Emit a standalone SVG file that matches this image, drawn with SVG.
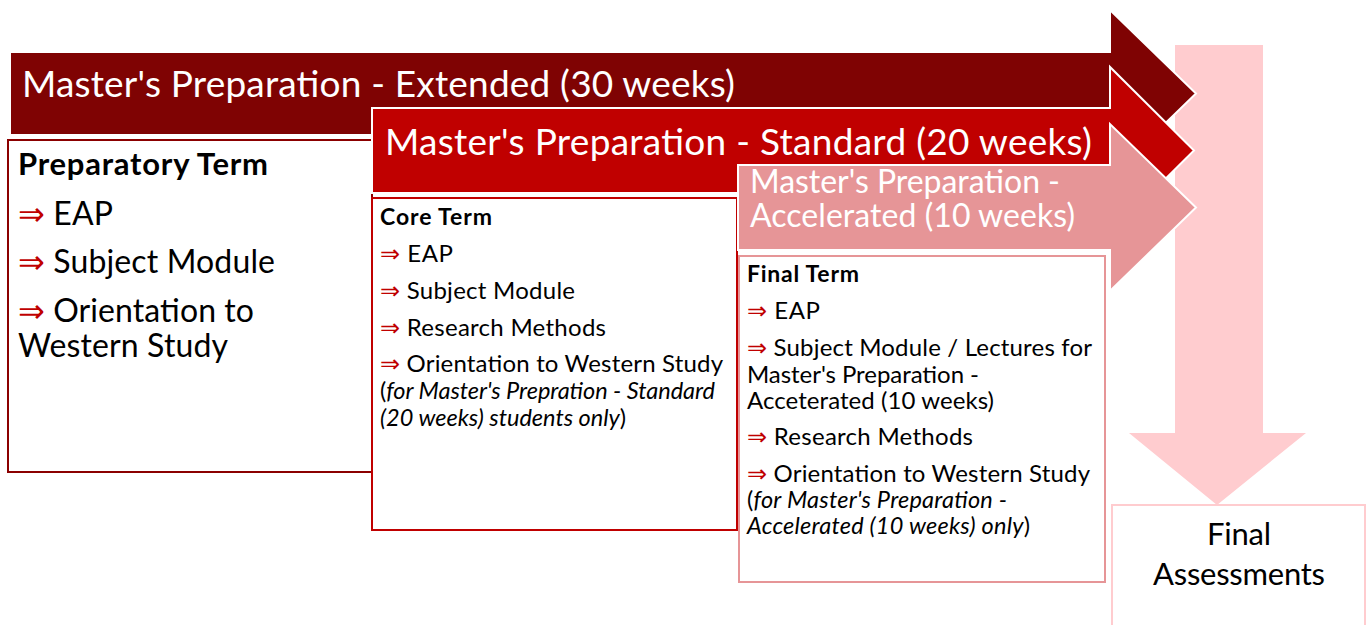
<svg xmlns="http://www.w3.org/2000/svg" width="1366" height="625" viewBox="0 0 1366 625">
<style>
text{font-family:Lato,"Liberation Sans",sans-serif;fill:#000}
.band{fill:#fff;font-size:37px}
.b{font-weight:bold}
.ar{fill:#C00000;font-family:"DejaVu Sans",sans-serif}
.i{font-style:italic}
.box{fill:#fff;stroke-width:2}
</style>
<rect width="1366" height="625" fill="#fff"/>
<g id="final-arrow">
<polygon points="1175,45 1263,45 1263,433 1306,433 1217,505 1129,433 1175,433" fill="#FFCCCF"/>
</g>
<g id="extended">
<polygon points="10,52 1110,52 1110,10 1196,93.5 1110,177 1110,135 10,135" fill="#7F0303" stroke="#fff" stroke-width="2"/>
<text class="band" x="22" y="97" textLength="713" lengthAdjust="spacing">Master's Preparation - Extended (30 weeks)</text>
</g>
<g id="preparatory">
<rect class="box" x="8" y="140" width="364" height="332" stroke="#8B0000"/>
<g font-size="32">
<text class="b" x="18" y="175" font-size="31" textLength="250" lengthAdjust="spacing">Preparatory Term</text>
<text x="18" y="225" textLength="95" lengthAdjust="spacing"><tspan class="ar">⇒</tspan> EAP</text>
<text x="18" y="273" textLength="257" lengthAdjust="spacing"><tspan class="ar">⇒</tspan> Subject Module</text>
<text x="18" y="322" textLength="236" lengthAdjust="spacing"><tspan class="ar">⇒</tspan> Orientation to</text>
<text x="18" y="357" textLength="210" lengthAdjust="spacing">Western Study</text>
</g>
</g>
<g id="standard">
<polygon points="372,108 1110,108 1110,67 1194,150.5 1110,234 1110,193 372,193" fill="#C00000" stroke="#fff" stroke-width="2"/>
<text class="band" x="385" y="155" textLength="707" lengthAdjust="spacing">Master's Preparation - Standard (20 weeks)</text>
</g>
<g id="core">
<rect class="box" x="372" y="198" width="365" height="332" stroke="#C00000"/>
<g font-size="24">
<text class="b" x="380" y="225" font-size="23" textLength="112" lengthAdjust="spacing">Core Term</text>
<text x="380" y="262" textLength="73" lengthAdjust="spacing"><tspan class="ar">⇒</tspan> EAP</text>
<text x="380" y="299" textLength="195" lengthAdjust="spacing"><tspan class="ar">⇒</tspan> Subject Module</text>
<text x="380" y="336" textLength="226" lengthAdjust="spacing"><tspan class="ar">⇒</tspan> Research Methods</text>
<text x="380" y="372" textLength="343" lengthAdjust="spacing"><tspan class="ar">⇒</tspan> Orientation to Western Study</text>
<text x="380" y="399" font-size="23.5" textLength="335" lengthAdjust="spacing">(<tspan class="i">for Master's Prepration - Standard</tspan></text>
<text x="380" y="426" font-size="23.5" textLength="246" lengthAdjust="spacing"><tspan class="i">(20 weeks) students only</tspan>)</text>
</g>
</g>
<g id="accelerated">
<polygon points="738,165 1110,165 1110,124 1196,207.5 1110,291 1110,250 738,250" fill="#E69597" stroke="#fff" stroke-width="2"/>
<text x="750" y="193" font-size="32" style="fill:#fff" textLength="310" lengthAdjust="spacing">Master's Preparation -</text>
<text x="750" y="227" font-size="32" style="fill:#fff" textLength="325" lengthAdjust="spacing">Accelerated (10 weeks)</text>
</g>
<g id="final-term">
<rect class="box" x="739" y="256" width="366" height="326" stroke="#E69597"/>
<g font-size="24">
<text class="b" x="747" y="282" font-size="23" textLength="112" lengthAdjust="spacing">Final Term</text>
<text x="747" y="319" textLength="73" lengthAdjust="spacing"><tspan class="ar">⇒</tspan> EAP</text>
<text x="747" y="356" textLength="345" lengthAdjust="spacing"><tspan class="ar">⇒</tspan> Subject Module / Lectures for</text>
<text x="747" y="383" textLength="232" lengthAdjust="spacing">Master's Preparation -</text>
<text x="747" y="409" textLength="247" lengthAdjust="spacing">Acceterated (10 weeks)</text>
<text x="747" y="445" textLength="226" lengthAdjust="spacing"><tspan class="ar">⇒</tspan> Research Methods</text>
<text x="747" y="482" textLength="343" lengthAdjust="spacing"><tspan class="ar">⇒</tspan> Orientation to Western Study</text>
<text x="747" y="508" font-size="23.5" textLength="260" lengthAdjust="spacing">(<tspan class="i">for Master's Preparation -</tspan></text>
<text x="747" y="534" font-size="23.5" textLength="283" lengthAdjust="spacing"><tspan class="i">Accelerated (10 weeks) only</tspan>)</text>
</g>
</g>
<g id="final-assessments">
<rect x="1112" y="505" width="253" height="125" fill="#fff" stroke="#FFCCCF" stroke-width="2"/>
<text x="1207" y="545" font-size="31" textLength="64" lengthAdjust="spacing">Final</text>
<text x="1153" y="585" font-size="31" textLength="172" lengthAdjust="spacing">Assessments</text>
</g>
<g id="connectors"></g>
</svg>
